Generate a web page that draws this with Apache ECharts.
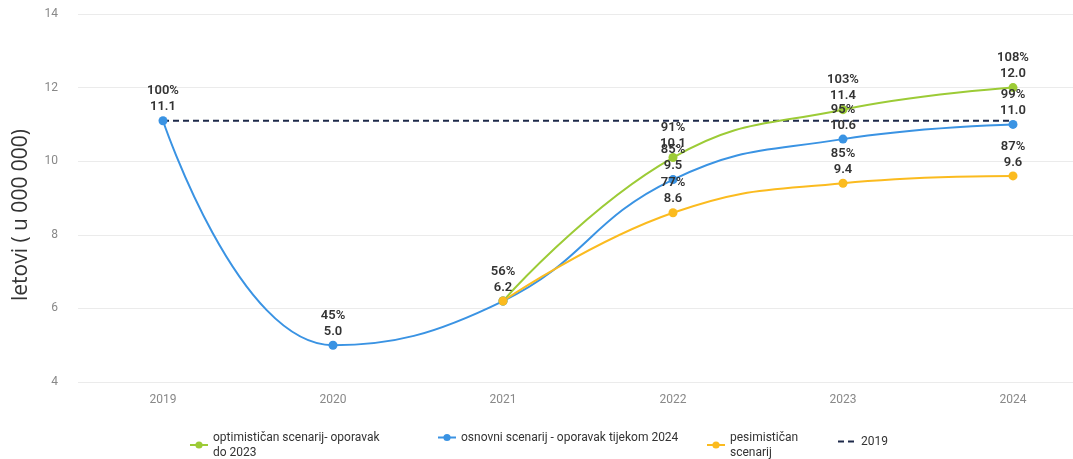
<!DOCTYPE html>
<html>
<head>
<meta charset="utf-8">
<script src="https://cdn.jsdelivr.net/npm/echarts@6/dist/echarts.min.js"></script>
<style>html,body{margin:0;padding:0;background:#fff}#c{width:1073px;height:459px}</style>
</head>
<body>
<div id="c"></div>
<script>
var categories = ['2019','2020','2021','2022','2023','2024'];
var optimistic = [null, null, 6.2, 10.1, 11.4, 12.0];
var optimisticPct = [null, null, 56, 91, 103, 108];
var base = [11.1, 5.0, 6.2, 9.5, 10.6, 11.0];
var basePct = [100, 45, 56, 85, 95, 99];
var pessimistic = [null, null, 6.2, 8.6, 9.4, 9.6];
var pessimisticPct = [null, null, 56, 77, 85, 87];
var ref2019 = [11.1, 11.1, 11.1, 11.1, 11.1, 11.1];
var yTicks = [4, 6, 8, 10, 12, 14];

var names = ['optimističan scenarij- oporavak\ndo 2023', 'osnovni scenarij - oporavak tijekom 2024', 'pesimističan\nscenarij', '2019'];
var colors = ['#9CCB36', '#3A93E3', '#FBBB1F', '#1E2A4A'];

function build(vals, pcts, hideIdx) {
  return vals.map(function (v, i) {
    if (v == null) return null;
    return {
      value: v,
      label: {
        show: hideIdx.indexOf(i) < 0,
        formatter: pcts[i] + '%\n' + v.toFixed(1)
      }
    };
  });
}

var labelStyle = {
  show: true, position: 'top', distance: 1,
  color: '#333', fontSize: 13, fontWeight: 600, lineHeight: 16,
  fontFamily: 'Roboto, sans-serif'
};

function lineSeries(name, data, color) {
  return {
    name: name, type: 'line', data: data, smooth: 0.45,
    symbol: 'circle', symbolSize: 9, connectNulls: false,
    lineStyle: { color: color, width: 2 },
    itemStyle: { color: color },
    label: labelStyle
  };
}

var chart = echarts.init(document.getElementById('c'));
var legendBase = {
  itemWidth: 18, itemHeight: 9, itemGap: 20,
  textStyle: { color: '#333', fontSize: 12, lineHeight: 15, fontFamily: 'Roboto, sans-serif' }
};
chart.setOption({
  animation: false,
  grid: { left: 78, top: 14, width: 1020, height: 368, outerBoundsMode: 'none', containLabel: false },
  legend: [
    Object.assign({}, legendBase, { left: 184, top: 425, data: [names[0]] }),
    Object.assign({}, legendBase, { left: 432, top: 425, data: [names[1]] }),
    Object.assign({}, legendBase, { left: 701, top: 425, data: [names[2]] }),
    Object.assign({}, legendBase, { left: 832, top: 429, data: [names[3]], itemStyle: { opacity: 0 } })
  ],
  xAxis: {
    type: 'category', data: categories, boundaryGap: true,
    axisLine: { show: false }, axisTick: { show: false },
    axisLabel: { color: '#888', fontSize: 12, margin: 12, fontFamily: 'Roboto, sans-serif' }
  },
  yAxis: {
    type: 'value', min: yTicks[0], max: yTicks[yTicks.length - 1], interval: 2,
    name: 'letovi ( u 000 000)', nameLocation: 'middle', nameGap: 46,
    nameTextStyle: { color: '#333', fontSize: 21, fontFamily: 'Open Sans, sans-serif', padding: [0, 34, 0, 0] },
    axisLine: { show: false }, axisTick: { show: false },
    axisLabel: { color: '#888', fontSize: 12, margin: 20, fontFamily: 'Roboto, sans-serif' },
    splitLine: { lineStyle: { color: '#ebebeb', width: 1 } }
  },
  series: [
    {
      name: names[3], type: 'line', data: ref2019, symbol: 'none', z: 3,
      lineStyle: { color: colors[3], width: 2, type: [6, 4] },
      itemStyle: { color: colors[3] }
    },
    lineSeries(names[0], build(optimistic, optimisticPct, [2]), colors[0]),
    lineSeries(names[1], build(base, basePct, [2]), colors[1]),
    lineSeries(names[2], build(pessimistic, pessimisticPct, []), colors[2])
  ]
});
</script>
</body>
</html>
